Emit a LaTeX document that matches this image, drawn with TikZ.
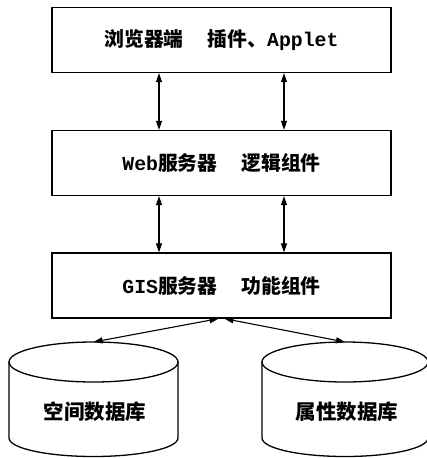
\documentclass[tikz,border=0pt]{standalone}
\usepackage{fontspec}
\newfontfamily\cjkfont{Noto Sans CJK SC}
\newfontfamily\latfont{Liberation Mono}
\newcommand{\zh}[1]{{\cjkfont\bfseries #1}}
\newcommand{\en}[1]{{\latfont\bfseries #1}}
\usetikzlibrary{arrows.meta}
\tikzset{
  layerbox/.style={draw, line width=1.3pt, minimum width=339pt, minimum height=65pt, inner sep=0pt,
    font=\fontsize{19.8pt}{23pt}\selectfont},
  dbline/.style={draw, line width=1.3pt},
  dblabel/.style={font=\fontsize{20.5pt}{23pt}\selectfont, inner sep=0pt},
  link/.style={line width=1.1pt, {Triangle[length=9pt,width=6pt]}-{Triangle[length=9pt,width=6pt]}}
}
\begin{document}
\begin{tikzpicture}[x=1pt,y=-1pt]
\useasboundingbox (0,0) rectangle (426,458);
\node[layerbox] (b1) at (221.5,40) {\zh{浏览器端}\hspace{24pt}\zh{插件、}\en{Applet}};
\node[layerbox] (b2) at (221.5,163) {\en{Web}\zh{服务器}\hspace{24pt}\zh{逻辑组件}};
\node[layerbox] (b3) at (221.5,285.5) {\en{GIS}\zh{服务器}\hspace{24pt}\zh{功能组件}};
% left cylinder
\path[dbline] (9,362) -- (9,438) arc[start angle=180, end angle=0, x radius=84.5, y radius=18.5] -- (178,362);
\path[dbline] (93.5,362) ellipse [x radius=84.5, y radius=20];
\coordinate (dbL) at (93.5,342);
% right cylinder
\path[dbline] (262,362) -- (262,438) arc[start angle=180, end angle=0, x radius=83, y radius=18.5] -- (428,362);
\path[dbline] (345,362) ellipse [x radius=83, y radius=20];
\coordinate (dbR) at (345,342);
\node[dblabel] (tL) at (95,412) {\zh{空间数据库}};
\node[dblabel] (tR) at (347,412) {\zh{属性数据库}};
\draw[link] ([xshift=-62.5pt]b1.south) -- ([xshift=-62.5pt]b2.north);
\draw[link] ([xshift=62.5pt]b1.south) -- ([xshift=62.5pt]b2.north);
\draw[link] ([xshift=-62.5pt]b2.south) -- ([xshift=-62.5pt]b3.north);
\draw[link] ([xshift=62.5pt]b2.south) -- ([xshift=62.5pt]b3.north);
\draw[link] ([xshift=-3pt]b3.south) -- (dbL);
\draw[link] ([xshift=3pt]b3.south) -- (dbR);
\end{tikzpicture}
\end{document}
